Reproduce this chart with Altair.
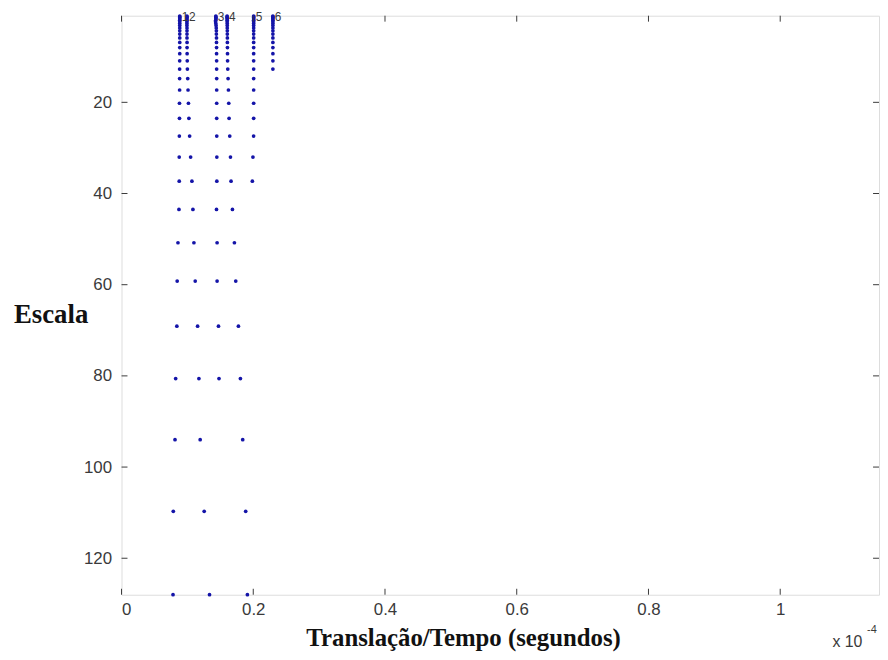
import altair as alt
import pandas as pd

# Scales (Escala), ascending
scales = [1.08, 1.26, 1.47, 1.71, 2.0, 2.33, 2.72, 3.17, 3.70, 4.32, 5.04, 5.88,
          6.86, 8.0, 9.33, 10.9, 12.7, 14.8, 17.3, 20.2, 23.5, 27.4, 32.0, 37.3,
          43.5, 50.8, 59.2, 69.1, 80.6, 94.0, 109.7, 128.0]

# x positions (units of 1e-4 s) of each maxima line, one per scale, line ends where list ends
line1 = [0.0884, 0.0884, 0.0884, 0.0884, 0.0884, 0.0884, 0.0884, 0.0884, 0.0884, 0.0884,
         0.0884, 0.0884, 0.0884, 0.0884, 0.0884, 0.0883, 0.0882, 0.0882, 0.0882, 0.0880,
         0.0880, 0.0878, 0.0876, 0.0876, 0.0872, 0.0857, 0.0845, 0.0840, 0.0822, 0.0812,
         0.0786, 0.0782]
line2 = [0.0993, 0.0993, 0.0993, 0.0993, 0.0993, 0.0993, 0.0993, 0.0993, 0.0994, 0.0994,
         0.0994, 0.0994, 0.0995, 0.0995, 0.0996, 0.0998, 0.1000, 0.1005, 0.1010, 0.1016,
         0.1023, 0.1034, 0.1049, 0.1069, 0.1084, 0.1099, 0.1119, 0.1155, 0.1175, 0.1194,
         0.1255, 0.1336]
line3 = [0.1432, 0.1432, 0.1433, 0.1434, 0.1430, 0.1428, 0.1432, 0.1436, 0.1438, 0.1440,
         0.1440, 0.1442, 0.1442, 0.1443, 0.1443, 0.1444, 0.1444, 0.1445, 0.1445, 0.1445,
         0.1445, 0.1446, 0.1447, 0.1447, 0.1442, 0.1451, 0.1451, 0.1472, 0.1480]
line4 = [0.1603, 0.1603, 0.1603, 0.1604, 0.1604, 0.1604, 0.1605, 0.1605, 0.1605, 0.1606,
         0.1606, 0.1607, 0.1607, 0.1608, 0.1609, 0.1610, 0.1613, 0.1618, 0.1623, 0.1628,
         0.1633, 0.1643, 0.1654, 0.1663, 0.1684, 0.1714, 0.1734, 0.1775, 0.1805, 0.1840,
         0.1885, 0.1911]
line5 = [0.2006, 0.2006, 0.2006, 0.2006, 0.2006, 0.2006, 0.2006, 0.2006, 0.2006, 0.2006,
         0.2006, 0.2006, 0.2006, 0.2006, 0.2006, 0.2006, 0.2006, 0.2006, 0.2006, 0.2006,
         0.2006, 0.2005, 0.1995, 0.1986]
line6 = [0.2298, 0.2298, 0.2298, 0.2298, 0.2298, 0.2298, 0.2298, 0.2298, 0.2298, 0.2298,
         0.2298, 0.2298, 0.2298, 0.2298, 0.2298, 0.2298, 0.2298]

line_labels = ["1", "2", "3", "4", "5", "6"]
x_ticks = [0, 0.2, 0.4, 0.6, 0.8, 1]
y_ticks = [20, 40, 60, 80, 100, 120]

W, H = 764, 584
X_DOMAIN = [0, 1.15]
Y_DOMAIN = [1, 128]
DOT = "#1414a8"
AX = "#3a3a3a"

lines = [line1, line2, line3, line4, line5, line6]
rows = []
for lab, xs in zip(line_labels, lines):
    for s, xv in zip(scales, xs):
        rows.append({"line": lab, "x": xv, "scale": s})
df = pd.DataFrame(rows)
lab_df = pd.DataFrame({"label": line_labels, "x": [l[0] for l in lines],
                       "scale": [scales[0]] * 6})

xs = alt.Scale(domain=X_DOMAIN, nice=False, zero=False)
ys = alt.Scale(domain=Y_DOMAIN, nice=False, zero=False, reverse=True)

xaxis = alt.Axis(values=x_ticks, format="~g", ticks=False, domain=False, grid=False,
                 labelFont="Liberation Sans", labelFontSize=17, labelColor=AX,
                 labelPadding=7, title=None)
yaxis = alt.Axis(values=y_ticks, ticks=False, domain=False, grid=False,
                 labelFont="Liberation Sans", labelFontSize=17, labelColor=AX,
                 labelPadding=10, title=None)

points = alt.Chart(df).mark_circle(size=14, color=DOT, opacity=1).encode(
    x=alt.X("x:Q", scale=xs, axis=xaxis),
    y=alt.Y("scale:Q", scale=ys, axis=yaxis),
)

labels = alt.Chart(lab_df).mark_text(
    align="left", baseline="middle", dx=2, dy=1, fontSize=12,
    font="Liberation Sans", color=AX
).encode(x=alt.X("x:Q", scale=xs), y=alt.Y("scale:Q", scale=ys), text="label:N")

xt_df = pd.DataFrame({"v": x_ticks})
yt_df = pd.DataFrame({"v": y_ticks})
xb = alt.Chart(xt_df).mark_rule(color=AX, strokeWidth=1).encode(
    x=alt.X("v:Q", scale=xs), y=alt.value(H), y2=alt.value(H - 6))
xtop = alt.Chart(xt_df).mark_rule(color=AX, strokeWidth=1).encode(
    x=alt.X("v:Q", scale=xs), y=alt.value(0), y2=alt.value(6))
yl = alt.Chart(yt_df).mark_rule(color=AX, strokeWidth=1).encode(
    y=alt.Y("v:Q", scale=ys), x=alt.value(0), x2=alt.value(6))
yr = alt.Chart(yt_df).mark_rule(color=AX, strokeWidth=1).encode(
    y=alt.Y("v:Q", scale=ys), x=alt.value(W), x2=alt.value(W - 6))

ytitle = alt.Chart(pd.DataFrame({"t": ["Escala"]})).mark_text(
    font="Liberation Serif", fontWeight="bold", fontSize=27, color="#111",
    align="center", baseline="middle"
).encode(x=alt.value(-71), y=alt.value(302), text="t:N")

xtitle = alt.Chart(pd.DataFrame({"t": ["Translação/Tempo (segundos)"]})).mark_text(
    font="Liberation Serif", fontWeight="bold", fontSize=25, color="#111",
    align="center", baseline="middle"
).encode(x=alt.value(345), y=alt.value(628), text="t:N")

mult = alt.Chart(pd.DataFrame({"t": ["x 10"]})).mark_text(
    font="Liberation Sans", fontSize=16, color=AX, align="left", baseline="middle"
).encode(x=alt.value(717), y=alt.value(632), text="t:N")
mult_exp = alt.Chart(pd.DataFrame({"t": ["-4"]})).mark_text(
    font="Liberation Sans", fontSize=11, color=AX, align="left", baseline="middle"
).encode(x=alt.value(752), y=alt.value(620), text="t:N")

chart = alt.layer(points, labels, xb, xtop, yl, yr, ytitle, xtitle, mult, mult_exp).properties(
    width=W, height=H,
    autosize=alt.AutoSizeParams(type="none"),
    padding={"left": 114.5, "top": 5, "right": 1, "bottom": 55},
).configure_view(stroke=AX, strokeWidth=1).configure(background="white")

chart.save("out.html", embed_options={"renderer": "svg", "actions": False})
